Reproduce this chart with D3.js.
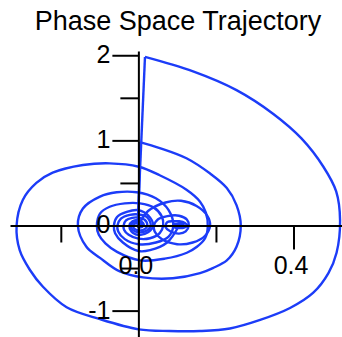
<!DOCTYPE html>
<html>
<head>
<meta charset="utf-8">
<script src="https://cdn.jsdelivr.net/npm/d3@7"></script>
<style>
  body { margin: 0; background: #fff; }
  svg { display: block; font-family: "Liberation Sans", Arial, sans-serif; }
</style>
</head>
<body>
<svg width="342" height="337"></svg>
<script>
// phase space points [position, velocity]
const pushLoops = [
  [0, 0], [0.025, 0.17], [0.07, 0.27], [0.11, 0.29], [0.15, 0.23], [0.177, 0.12],
  [0.185, 0.0], [0.172, -0.12], [0.14, -0.2], [0.1, -0.22], [0.06, -0.16],
  [0.042, -0.07], [0.04, 0.0], [0.05, 0.07], [0.075, 0.11], [0.105, 0.115],
  [0.125, 0.07], [0.13, 0.0], [0.122, -0.07], [0.105, -0.095], [0.083, -0.07],
  [0.07, -0.02], [0.07, 0.0], [0.075, 0.04], [0.09, 0.05], [0.105, 0.05],
  [0.12, 0.03], [0.125, 0.0], [0.118, -0.025], [0.105, -0.03], [0.092, -0.02],
  [0.089, 0.0], [0.093, 0.015], [0.105, 0.02], [0.115, 0.01], [0.117, 0.0],
  [0.11, -0.008], [0.105, 0.0]
];

const releaseSpiral = [
  [0.105, 0.0], [0.074, -0.2], [0.03, -0.29], [0.0, -0.3], [-0.04, -0.2],
  [-0.06, -0.09], [-0.063, 0.0], [-0.055, 0.1], [-0.03, 0.16], [0.0, 0.18],
  [0.025, 0.12], [0.038, 0.0], [0.025, -0.08], [0.0, -0.11], [-0.018, -0.07],
  [-0.023, 0.0], [-0.015, 0.05], [0.0, 0.065], [0.012, 0.03], [0.014, 0.0],
  [0.0, -0.02], [0.0, 0.0]
];

const firstKick = [
  [0.004, 0.98], [0.055, 0.91], [0.124, 0.79], [0.185, 0.61], [0.228, 0.44],
  [0.253, 0.24], [0.264, 0.0], [0.253, -0.25], [0.228, -0.41], [0.192, -0.5],
  [0.159, -0.56], [0.089, -0.62], [0.012, -0.61], [-0.048, -0.54], [-0.099, -0.38],
  [-0.134, -0.25], [-0.156, 0.0], [-0.143, 0.2], [-0.099, 0.34], [-0.056, 0.39],
  [-0.004, 0.39], [0.045, 0.32], [0.078, 0.18], [0.09, 0.0], [0.078, -0.13],
  [0.045, -0.2], [0.0, -0.22], [-0.035, -0.16], [-0.052, -0.07], [-0.054, 0.0],
  [-0.045, 0.08], [-0.022, 0.125], [0.0, 0.13], [0.022, 0.1], [0.032, 0.0],
  [0.022, -0.06], [0.0, -0.08], [-0.015, -0.05], [-0.019, 0.0], [-0.012, 0.04],
  [0.0, 0.05], [0.01, 0.02], [0.01, -0.015], [0.0, -0.02], [-0.002, 0.0]
];

const secondKick = [
  [0.017, 1.98], [0.141, 1.81], [0.253, 1.59], [0.348, 1.31], [0.421, 1.02],
  [0.477, 0.69], [0.51, 0.4], [0.52, 0.06], [0.511, -0.32], [0.49, -0.56],
  [0.451, -0.79], [0.391, -0.97], [0.314, -1.11], [0.236, -1.21], [0.159, -1.24],
  [0.08, -1.24], [0.001, -1.22], [-0.099, -1.1], [-0.185, -0.96], [-0.246, -0.72],
  [-0.28, -0.52], [-0.306, -0.29], [-0.314, 0.0], [-0.298, 0.3], [-0.263, 0.5],
  [-0.221, 0.62], [-0.143, 0.71], [-0.074, 0.73], [0.001, 0.69], [0.055, 0.59],
  [0.124, 0.42], [0.159, 0.28], [0.174, 0.15], [0.179, -0.01], [0.172, -0.15],
  [0.151, -0.25], [0.125, -0.32], [0.068, -0.39], [0.004, -0.41], [-0.055, -0.31],
  [-0.085, -0.21], [-0.102, -0.11], [-0.107, 0.0], [-0.099, 0.14], [-0.074, 0.22],
  [-0.035, 0.26], [0.004, 0.26], [0.04, 0.21], [0.06, 0.11], [0.064, 0.0],
  [0.055, -0.09], [0.03, -0.15], [0.0, -0.155], [-0.025, -0.11], [-0.037, -0.05],
  [-0.038, 0.0], [-0.032, 0.06], [-0.016, 0.09], [0.0, 0.093], [0.016, 0.07],
  [0.023, 0.0], [0.016, -0.045], [0.0, -0.056], [-0.011, -0.035], [-0.014, 0.0],
  [-0.008, 0.025], [0.0, 0.033], [0.007, 0.012], [0.006, -0.008], [0.0, -0.01]
];

const xTicks = [-0.2, 0, 0.2, 0.4];
const xLabels = { "0": "0.0", "0.4": "0.4" };
const yTicks = [-1, -0.5, 0, 0.5, 1, 1.5, 2];
const yLabels = { "-1": "-1", "0": "0", "1": "1", "2": "2" };

const width = 342;
const height = 337;

const x = d3.scaleLinear().domain([-0.331, 0.525]).range([10, width]);
const y = d3.scaleLinear().domain([-1.31, 2.05]).range([height, 51]);

const svg = d3.select("svg");

const segments = [pushLoops, releaseSpiral, firstKick, secondKick];

const smooth = d3.line()
  .x((d) => x(d[0]))
  .y((d) => y(d[1]))
  .curve(d3.curveCatmullRom.alpha(0.5));

const straight = d3.line()
  .x((d) => x(d[0]))
  .y((d) => y(d[1]));

// jumps between segments are straight steps
const jumps = segments.slice(1).map((s, i) => [segments[i][segments[i].length - 1], s[0]]);

const curves = svg.append("g")
  .attr("fill", "none")
  .attr("stroke", "#1c3cf8")
  .attr("stroke-width", 2.4)
  .attr("stroke-linejoin", "round");

curves.selectAll("path.seg")
  .data(segments)
  .join("path")
  .attr("class", "seg")
  .attr("d", smooth);

curves.selectAll("path.jump")
  .data(jumps)
  .join("path")
  .attr("class", "jump")
  .attr("d", straight);

// x axis through y = 0
const gx = svg.append("g")
  .attr("transform", `translate(0,${y(0)})`)
  .call(d3.axisBottom(x)
    .tickValues(xTicks)
    .tickSize(24)
    .tickSizeOuter(0)
    .tickPadding(7)
    .tickFormat((d) => xLabels[String(d)] || ""));

gx.selectAll(".tick line")
  .attr("y2", (d) => (xLabels[String(d)] ? 24 : 17));

// y axis through x = 0
const gy = svg.append("g")
  .attr("transform", `translate(${x(0)},0)`)
  .call(d3.axisLeft(y)
    .tickValues(yTicks)
    .tickSize(26)
    .tickSizeOuter(0)
    .tickPadding(4)
    .tickFormat((d) => yLabels[String(d)] || ""));

gy.selectAll(".tick line")
  .attr("x2", (d) => (yLabels[String(d)] ? -26 : -18));

svg.selectAll(".domain, .tick line")
  .attr("stroke", "#000")
  .attr("stroke-width", 2);

svg.selectAll(".tick text")
  .attr("fill", "#000")
  .style("font-size", "25px")
  .style("font-family", "'Liberation Sans', Arial, sans-serif");

gx.selectAll(".tick text").attr("dx", "-3");
gy.selectAll(".tick text").attr("dy", "0.3em").attr("dx", "2");

svg.append("text")
  .attr("x", 178)
  .attr("y", 30)
  .attr("text-anchor", "middle")
  .style("font-size", "27px")
  .text("Phase Space Trajectory");
</script>
</body>
</html>
